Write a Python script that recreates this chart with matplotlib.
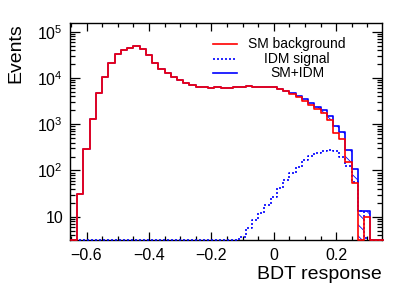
import numpy as np
import matplotlib
matplotlib.use("Agg")
import matplotlib.pyplot as plt
from matplotlib.lines import Line2D
from matplotlib.ticker import FixedLocator, FixedFormatter, MultipleLocator, LogLocator, NullFormatter

plt.rcParams['font.family'] = ['Liberation Sans', 'DejaVu Sans']
plt.rcParams['mathtext.fontset'] = 'custom'
plt.rcParams['mathtext.rm'] = 'Liberation Sans'
plt.rcParams['mathtext.it'] = 'Liberation Sans:italic'
plt.rcParams['hatch.linewidth'] = 0.6

# ---- data ----
bin_low = -0.65
bin_width = 0.02
sm_background = [0, 31, 288, 1300, 4700, 10700, 21500, 33000, 40000, 45000,
                 49000, 43000, 32000, 21000, 15600, 12900, 10400, 9000, 7700, 6950,
                 6500, 6300, 6200, 6250, 6150, 6200, 6350, 6450, 6700, 6500,
                 6350, 6300, 6250, 5800, 5250, 4600, 3950, 3250, 2620, 2110,
                 1730, 1240, 640, 475, 155, 53, 0, 10, 0, 0]
idm_signal = [0] * 27 + [3.7, 5.8, 8.3, 12, 18, 27, 41, 63, 90, 121,
                         170, 207, 244, 270, 279, 257, 200, 125, 55, 13,
                         3.5, 0, 0]
legend_labels = ["SM background", "IDM signal", "SM+IDM"]
x_ticks = [-0.6, -0.4, -0.2, 0.0, 0.2]
x_tick_labels = ["\u22120.6", "\u22120.4", "\u22120.2", "0", "0.2"]
y_ticks = [10, 1e2, 1e3, 1e4, 1e5]
y_tick_labels = ["10", "$10^{2}$", "$10^{3}$", "$10^{4}$", "$10^{5}$"]

ymin, ymax = 3.14, 1.54e5
xmin, xmax = -0.653, 0.347

bkg = np.array(sm_background, dtype=float)
sig = np.array(idm_signal, dtype=float)
tot = bkg + sig
nb = len(bkg)
edges = bin_low + bin_width * np.arange(nb + 1)

def stepy(v):
    v = np.where(v > 0, v, ymin)
    return np.append(v, v[-1])

fig = plt.figure(figsize=(4.15, 2.94), dpi=100)
ax = fig.add_axes([70/415, 54/294, 312/415, 217/294])
ax.set_yscale('log')

red = '#ff0000'
blue = '#0000ff'

ax.fill_between(edges, stepy(bkg), stepy(tot), step='post', facecolor='none',
                edgecolor=blue, hatch='\\\\\\', linewidth=0, zorder=1)
ax.step(edges, stepy(tot), where='post', color=blue, lw=1.2, zorder=2, clip_on=False)
ax.step(edges, stepy(sig), where='post', color=blue, lw=1.2, ls=(0, (1.2, 1.2)), zorder=3, clip_on=False)
ax.step(edges, stepy(bkg), where='post', color=red, lw=1.2, zorder=4, clip_on=False)

ax.set_xlim(xmin, xmax)
ax.set_ylim(ymin, ymax)

ax.xaxis.set_major_locator(FixedLocator(x_ticks))
ax.xaxis.set_major_formatter(FixedFormatter(x_tick_labels))
ax.xaxis.set_minor_locator(MultipleLocator(0.05))
ax.yaxis.set_major_locator(FixedLocator(y_ticks))
ax.yaxis.set_major_formatter(FixedFormatter(y_tick_labels))
ax.yaxis.set_minor_locator(LogLocator(base=10, subs=np.arange(2, 10), numticks=20))
ax.yaxis.set_minor_formatter(NullFormatter())

ax.tick_params(axis='both', which='both', direction='in', top=True, right=True,
               labelsize=11.5, width=0.9)
ax.tick_params(axis='x', which='major', length=6, pad=6)
ax.tick_params(axis='x', which='minor', length=3)
ax.tick_params(axis='y', which='major', length=7, pad=5)
ax.tick_params(axis='y', which='minor', length=3.5)
for s in ax.spines.values():
    s.set_linewidth(1.0)

ax.set_xlabel("BDT response", fontsize=14, loc='right', labelpad=2)
ax.set_ylabel("Events", fontsize=14, loc='top', labelpad=9)

# legend (manual, ROOT-like)
leg_y = [44, 59, 73]
styles = [dict(color=red, lw=1.2), dict(color=blue, lw=1.2, ls=(0, (1.2, 1.2))),
          dict(color=blue, lw=1.2)]
for lab, yy, st in zip(legend_labels, leg_y, styles):
    yf = 1 - yy / 294
    fig.add_artist(Line2D([213/415, 237/415], [yf, yf], transform=fig.transFigure, **st))
    fig.text(297/415, yf, lab, ha='center', va='center', fontsize=10)

fig.savefig("out.png", dpi=100)
